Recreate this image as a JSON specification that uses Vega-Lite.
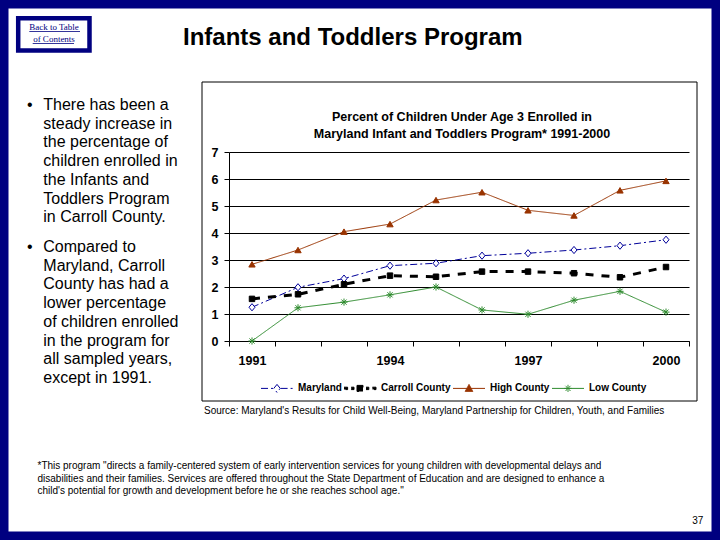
{
  "$schema": "https://vega.github.io/schema/vega-lite/v6.json",
  "width": 460,
  "height": 189,
  "autosize": {"type": "none"},
  "padding": {"left": 229, "top": 152, "right": 31, "bottom": 199},
  "background": "white",
  "config": {"view": {"stroke": null}, "font": "Liberation Sans"},
  "data": {"values": [
    {"year": 1991, "series": "Maryland", "value": 1.25},
    {"year": 1992, "series": "Maryland", "value": 1.99},
    {"year": 1993, "series": "Maryland", "value": 2.31},
    {"year": 1994, "series": "Maryland", "value": 2.79},
    {"year": 1995, "series": "Maryland", "value": 2.88},
    {"year": 1996, "series": "Maryland", "value": 3.16},
    {"year": 1997, "series": "Maryland", "value": 3.25},
    {"year": 1998, "series": "Maryland", "value": 3.37},
    {"year": 1999, "series": "Maryland", "value": 3.53},
    {"year": 2000, "series": "Maryland", "value": 3.75},
    {"year": 1991, "series": "Carroll County", "value": 1.56},
    {"year": 1992, "series": "Carroll County", "value": 1.73},
    {"year": 1993, "series": "Carroll County", "value": 2.10},
    {"year": 1994, "series": "Carroll County", "value": 2.42},
    {"year": 1995, "series": "Carroll County", "value": 2.38},
    {"year": 1996, "series": "Carroll County", "value": 2.57},
    {"year": 1997, "series": "Carroll County", "value": 2.57},
    {"year": 1998, "series": "Carroll County", "value": 2.51},
    {"year": 1999, "series": "Carroll County", "value": 2.36},
    {"year": 2000, "series": "Carroll County", "value": 2.74},
    {"year": 1991, "series": "High County", "value": 2.84},
    {"year": 1992, "series": "High County", "value": 3.37},
    {"year": 1993, "series": "High County", "value": 4.05},
    {"year": 1994, "series": "High County", "value": 4.33},
    {"year": 1995, "series": "High County", "value": 5.22},
    {"year": 1996, "series": "High County", "value": 5.51},
    {"year": 1997, "series": "High County", "value": 4.84},
    {"year": 1998, "series": "High County", "value": 4.65},
    {"year": 1999, "series": "High County", "value": 5.58},
    {"year": 2000, "series": "High County", "value": 5.93},
    {"year": 1991, "series": "Low County", "value": 0.0},
    {"year": 1992, "series": "Low County", "value": 1.23},
    {"year": 1993, "series": "Low County", "value": 1.44},
    {"year": 1994, "series": "Low County", "value": 1.71},
    {"year": 1995, "series": "Low County", "value": 2.0},
    {"year": 1996, "series": "Low County", "value": 1.15},
    {"year": 1997, "series": "Low County", "value": 0.99},
    {"year": 1998, "series": "Low County", "value": 1.51},
    {"year": 1999, "series": "Low County", "value": 1.84},
    {"year": 2000, "series": "Low County", "value": 1.07}
  ]},
  "layer": [
    {
      "data": {"values": [{}]},
      "mark": {"type": "rect", "fill": "white", "fillOpacity": 0, "stroke": "#000080", "strokeWidth": 17},
      "encoding": {"x": {"value": -229}, "x2": {"value": 491}, "y": {"value": -152}, "y2": {"value": 388}}
    },
    {
      "data": {"values": [{}]},
      "mark": {"type": "rect", "fill": "white", "fillOpacity": 0, "stroke": "black", "strokeWidth": 1},
      "encoding": {"x": {"value": -27}, "x2": {"value": 468}, "y": {"value": -70}, "y2": {"value": 249}}
    },
    {
      "data": {"values": [{}]},
      "mark": {"type": "rect", "fill": "white", "fillOpacity": 0, "stroke": "#000080", "strokeWidth": 4.5},
      "encoding": {"x": {"value": -210.8}, "x2": {"value": -139.5}, "y": {"value": -133.8}, "y2": {"value": -101.5}}
    },
    {
      "data": {"values": [{"t": "Back to Table\nof Contents"}]},
      "mark": {"type": "text", "font": "Liberation Serif", "fontSize": 9, "color": "#000080", "align": "center", "baseline": "alphabetic", "lineBreak": "\n", "lineHeight": 12},
      "encoding": {"text": {"field": "t", "type": "nominal"}, "x": {"value": -175}, "y": {"value": -122.5}}
    },
    {
      "data": {"values": [{}]},
      "mark": {"type": "rule", "color": "#000080", "strokeWidth": 0.8},
      "encoding": {"x": {"value": -199.7}, "x2": {"value": -149}, "y": {"value": -120.5}}
    },
    {
      "data": {"values": [{}]},
      "mark": {"type": "rule", "color": "#000080", "strokeWidth": 0.8},
      "encoding": {"x": {"value": -196.3}, "x2": {"value": -155}, "y": {"value": -108.5}}
    },
    {
      "data": {"values": [{"t": "Infants and Toddlers Program"}]},
      "mark": {"type": "text", "fontSize": 24, "fontWeight": "bold", "color": "black", "align": "left", "baseline": "alphabetic"},
      "encoding": {"text": {"field": "t", "type": "nominal"}, "x": {"value": -46}, "y": {"value": -107}}
    },
    {
      "data": {"values": [{"t": "•"}]},
      "mark": {"type": "text", "fontSize": 16, "color": "black", "align": "left", "baseline": "alphabetic"},
      "encoding": {"text": {"field": "t", "type": "nominal"}, "x": {"value": -202}, "y": {"value": -42}}
    },
    {
      "data": {"values": [{"t": "There has been a\nsteady increase in\nthe percentage of\nchildren enrolled in\nthe Infants and\nToddlers Program\nin Carroll County."}]},
      "mark": {"type": "text", "fontSize": 16, "color": "black", "align": "left", "baseline": "alphabetic", "lineBreak": "\n", "lineHeight": 18.7},
      "encoding": {"text": {"field": "t", "type": "nominal"}, "x": {"value": -185.7}, "y": {"value": -42}}
    },
    {
      "data": {"values": [{"t": "•"}]},
      "mark": {"type": "text", "fontSize": 16, "color": "black", "align": "left", "baseline": "alphabetic"},
      "encoding": {"text": {"field": "t", "type": "nominal"}, "x": {"value": -202}, "y": {"value": 100}}
    },
    {
      "data": {"values": [{"t": "Compared to\nMaryland, Carroll\nCounty has had a\nlower percentage\nof children enrolled\nin the program for\nall sampled years,\nexcept in 1991."}]},
      "mark": {"type": "text", "fontSize": 16, "color": "black", "align": "left", "baseline": "alphabetic", "lineBreak": "\n", "lineHeight": 18.7},
      "encoding": {"text": {"field": "t", "type": "nominal"}, "x": {"value": -185.7}, "y": {"value": 100}}
    },
    {
      "data": {"values": [{"t": "Percent of Children Under Age 3 Enrolled in\nMaryland Infant and Toddlers Program* 1991-2000"}]},
      "mark": {"type": "text", "fontSize": 12.5, "fontWeight": "bold", "color": "black", "align": "center", "baseline": "alphabetic", "lineBreak": "\n", "lineHeight": 16.6},
      "encoding": {"text": {"field": "t", "type": "nominal"}, "x": {"value": 233}, "y": {"value": -30.8}}
    },
    {
      "data": {"values": [{"t": "Source: Maryland's Results for Child Well-Being, Maryland Partnership for Children, Youth, and Families"}]},
      "mark": {"type": "text", "fontSize": 10, "color": "black", "align": "left", "baseline": "alphabetic"},
      "encoding": {"text": {"field": "t", "type": "nominal"}, "x": {"value": -25}, "y": {"value": 262}}
    },
    {
      "data": {"values": [{"t": "*This program \"directs a family-centered system of early intervention services for young children with developmental delays and\n disabilities and their families.  Services are offered throughout the State Department of Education and are designed to enhance a\n child's potential for growth and development before he or she reaches school age.\""}]},
      "mark": {"type": "text", "fontSize": 10, "color": "black", "align": "left", "baseline": "alphabetic", "lineBreak": "\n", "lineHeight": 12.5},
      "encoding": {"text": {"field": "t", "type": "nominal"}, "x": {"value": -191.5}, "y": {"value": 317}}
    },
    {
      "data": {"values": [{"t": "37"}]},
      "mark": {"type": "text", "fontSize": 10, "color": "black", "align": "right", "baseline": "alphabetic"},
      "encoding": {"text": {"field": "t", "type": "nominal"}, "x": {"value": 474.3}, "y": {"value": 372}}
    },
    {
      "encoding": {
        "x": {"field": "year", "type": "quantitative",
          "scale": {"domain": [1990.5, 2000.5], "nice": false, "zero": false},
          "axis": {"title": null, "grid": false,
            "values": [1990.5, 1991.5, 1992.5, 1993.5, 1994.5, 1995.5, 1996.5, 1997.5, 1998.5, 1999.5, 2000.5],
            "labelExpr": "(datum.value == 1990.5 || datum.value == 1993.5 || datum.value == 1996.5 || datum.value == 1999.5) ? format(datum.value + 0.5, 'd') : ''",
            "labelOffset": 23, "labelOverlap": false, "labelFlush": false, "labelBound": false,
            "domainColor": "black", "tickColor": "black", "tickSize": 5, "labelPadding": 8,
            "labelFont": "Liberation Sans", "labelFontSize": 12.5, "labelFontWeight": "bold", "labelColor": "black"}},
        "y": {"field": "value", "type": "quantitative",
          "scale": {"domain": [0, 7], "nice": false},
          "axis": {"title": null, "grid": true, "values": [0, 1, 2, 3, 4, 5, 6, 7], "labelOverlap": false,
            "gridColor": "black", "gridOpacity": 1, "gridWidth": 1,
            "domainColor": "black", "tickColor": "black", "tickSize": 5, "labelPadding": 6,
            "labelFont": "Liberation Sans", "labelFontSize": 12.5, "labelFontWeight": "bold", "labelColor": "black"}}
      },
      "layer": [
        {
          "mark": {"type": "line"},
          "encoding": {
            "color": {"field": "series", "type": "nominal",
              "scale": {"domain": ["Maryland", "Carroll County", "High County", "Low County"], "range": ["#000099", "#000000", "#993300", "#2e8b2e"]},
              "legend": {"orient": "none", "legendX": 43, "legendY": 231, "direction": "horizontal", "title": null, "padding": 0,
                "labelFont": "Liberation Sans", "labelFontSize": 10, "labelFontWeight": "bold", "labelColor": "black",
                "symbolSize": 64, "labelOffset": 16, "columnPadding": 0,
                "encode": {"symbols": {"update": {
                  "shape": {"signal": "datum.value === 'Maryland' ? 'M-4,0L-0.9,0M0.9,0L4,0M0,-1L0.8,0L0,1L-0.8,0ZM0,-1.3M0,1.3' : datum.value === 'Carroll County' ? 'M-4,-0.3L-3.1,-0.3L-3.1,0.3L-4,0.3ZM-2.2,-0.3L-1.5,-0.3L-1.5,0.3L-2.2,0.3ZM1.5,-0.3L2.2,-0.3L2.2,0.3L1.5,0.3ZM3.1,-0.3L4,-0.3L4,0.3L3.1,0.3ZM-0.75,-0.75L0.75,-0.75L0.75,0.75L-0.75,0.75ZM0,-1.3M0,1.3' : datum.value === 'High County' ? 'M-4,0L4,0M0,-1L0.95,0.75L-0.95,0.75ZM0,-1.3M0,1.3' : 'M-4,0L4,0M-0.9,0L0.9,0M0,-0.9L0,0.9M-0.65,-0.65L0.65,0.65M-0.65,0.65L0.65,-0.65M0,-1.3M0,1.3'"},
                  "fill": {"signal": "datum.value === 'Maryland' ? 'white' : datum.value === 'Carroll County' ? 'black' : datum.value === 'High County' ? '#993300' : 'transparent'"},
                  "stroke": {"signal": "datum.value === 'Maryland' ? '#000099' : datum.value === 'Carroll County' ? 'black' : datum.value === 'High County' ? '#993300' : '#2e8b2e'"},
                  "strokeWidth": {"value": 1},
                  "strokeDash": {"signal": "datum.value === 'Maryland' ? [5,2,1.5,2] : [1,0]"},
                  "size": {"value": 64},
                  "opacity": {"value": 1}
                }}}}},
            "strokeDash": {"field": "series", "type": "nominal",
              "scale": {"domain": ["Maryland", "Carroll County", "High County", "Low County"], "range": [[7, 3, 2, 3], [8, 8], [1, 0], [1, 0]]},
              "legend": null},
            "strokeWidth": {"condition": {"test": "datum.series === 'Carroll County'", "value": 3}, "value": 1}
          }
        },
        {
          "transform": [{"filter": "datum.series === 'Maryland'"}],
          "mark": {"type": "point", "shape": "M0,-1.2L1,0L0,1.2L-1,0Z", "filled": true, "fill": "white", "stroke": "#000099", "strokeWidth": 1, "size": 36, "opacity": 1}
        },
        {
          "transform": [{"filter": "datum.series === 'Carroll County'"}],
          "mark": {"type": "point", "shape": "square", "filled": true, "fill": "black", "stroke": "black", "strokeWidth": 1, "size": 30, "opacity": 1}
        },
        {
          "transform": [{"filter": "datum.series === 'High County'"}],
          "mark": {"type": "point", "shape": "triangle-up", "filled": true, "fill": "#993300", "stroke": "#993300", "strokeWidth": 1, "size": 40, "opacity": 1}
        },
        {
          "transform": [{"filter": "datum.series === 'Low County'"}],
          "mark": {"type": "point", "shape": "M-1.1,0L1.1,0M0,-1.1L0,1.1M-0.8,-0.8L0.8,0.8M-0.8,0.8L0.8,-0.8", "filled": false, "fill": "transparent", "stroke": "#2e8b2e", "strokeWidth": 1, "size": 42, "opacity": 1}
        }
      ]
    }
  ]
}
